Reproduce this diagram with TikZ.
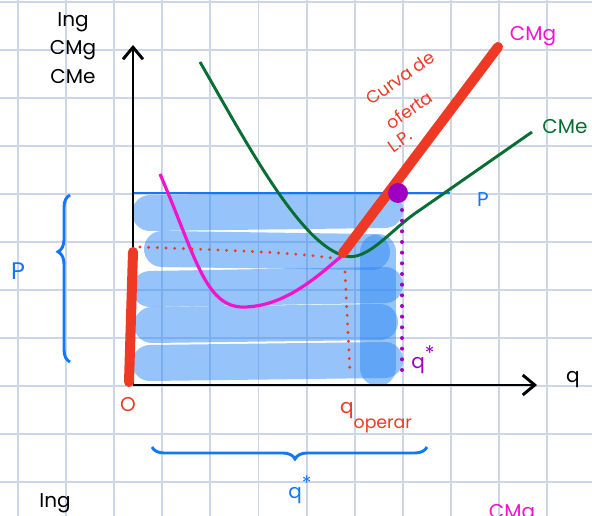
\documentclass[tikz,border=0pt]{standalone}
\usepackage{fontspec}
\setmainfont{Poppins}
\usetikzlibrary{arrows.meta, decorations.pathreplacing, calc}
\definecolor{gridline}{RGB}{203,214,232}
\definecolor{inkblue}{RGB}{20,118,250}
\definecolor{fillblue}{RGB}{45,135,245}
\definecolor{inkred}{RGB}{238,58,36}
\definecolor{inkpink}{RGB}{240,20,205}
\definecolor{inkgreen}{RGB}{8,110,52}
\definecolor{inkpurple}{RGB}{158,0,192}

\begin{document}
\begin{tikzpicture}[
    x=0.75pt, y=-0.75pt,
    hand/.style={font=\fontsize{15}{17}\selectfont, inner sep=0pt},
    scrib/.style={line width=27pt, line cap=round, fillblue, opacity=0.5},
    axis/.style={line width=2.2pt, -{Straight Barb[length=9pt, width=15pt, line width=2.2pt]}},
    dots/.style={line width=2.4pt, dash pattern=on 0pt off 6.5pt, line cap=round},
    bracket/.style={inkblue, line width=2.2pt, decorate, decoration={brace, amplitude=9pt}},
    slant/.style={hand, text=inkred, rotate=35, font=\fontsize{13}{15}\selectfont},
]
\useasboundingbox (0,0) rectangle (592,516);
\clip (0,0) rectangle (592,516);

% grid paper
\foreach \i in {0,...,12}
  \draw[gridline, line width=1.4pt] ({18+48.1*\i},0) -- ({18+48.1*\i},516);
\foreach \j in {0,...,10}
  \draw[gridline, line width=1.4pt] (0,{2+48*\j}) -- (592,{2+48*\j});

\coordinate (O) at (133,385);
\coordinate (ytop) at (133,45);
\coordinate (xend) at (537,385);

% shaded area
\draw[scrib] (150,213) -- (385,210);
\draw[scrib] (162,249) -- (372,252);
\draw[scrib] (150,289) -- (385,285);
\draw[scrib] (152,325) -- (380,322);
\draw[scrib] (150,363) -- (385,360);
\draw[scrib] (378,252) -- (378,368);
\draw[inkblue, line width=2.2pt] (133,193) -- (450,193);

% axes
\draw[axis] (O) -- (ytop);
\draw[axis] (O) -- (xend);

% cost curves
\draw[inkpink, line width=2.4pt] (160,174) .. controls (195,255) and (205,307) .. (243,307)
  .. controls (285,307) and (318,276) .. (345,253) -- (500,45);
\draw[inkgreen, line width=2.2pt] (200,62) .. controls (245,140) and (300,245) .. (345,256)
  .. controls (368,262) and (392,228) .. (420,210) -- (532,132);

% long-run supply
\draw[inkred, line width=7.5pt, line cap=round] (343,253) -- (498,47);
\draw[inkred, line width=7.5pt, line cap=round] (133,252) -- (129,382);
\draw[inkred, dots] (140,247) .. controls (220,250) and (290,252) .. (332,258);
\draw[inkred, dots] (345,272) -- (350,373);

% equilibrium
\draw[inkpurple, dots, line width=3pt, dash pattern=on 0pt off 8pt] (402,210) -- (402,374);
\node[circle, fill=inkpurple, minimum size=15pt, inner sep=0pt] (eq) at (398,193) {};

% braces
\draw[bracket, decoration={aspect=0.66}] (70,362) -- (70,195);
\draw[bracket, decoration={aspect=0.48}] (427,447) -- (152,447);

% labels
\node[hand] (ing) at (73,22) {Ing};
\node[hand] (cmgax) at (73,50) {CMg};
\node[hand] (cmeax) at (73,77) {CMe};
\node[hand] (qax) at (573,380) {q};
\node[hand, text=inkred] (orig) at (128,405) {O};
\node[hand, text=inkpink] (cmg) at (533,36) {CMg};
\node[hand, text=inkgreen] (cme) at (565,127) {CMe};
\node[hand, text=inkblue] (pline) at (483,200) {P};
\node[hand, text=inkblue, font=\fontsize{18}{20}\selectfont] (pbrace) at (18,271) {P};
\node[hand, text=inkpurple] (qstar) at (423,360) {q\raisebox{0.7ex}{*}};
\node[hand, text=inkblue] (qtot) at (300,490) {q\raisebox{0.7ex}{*}};
\node[hand, text=inkred] (qop) at (376,418) {q\raisebox{-1.4ex}{\fontsize{13}{15}\selectfont operar}};
\node[slant] (curva) at (400,78) {Curva de};
\node[slant] (oferta) at (409,110) {oferta};
\node[slant] (lp) at (400,141) {L.P.};
\node[hand] (ingb) at (55,503) {Ing};
\node[hand, text=inkpink] (cmgb) at (512,514) {CMg};
\end{tikzpicture}
\end{document}
